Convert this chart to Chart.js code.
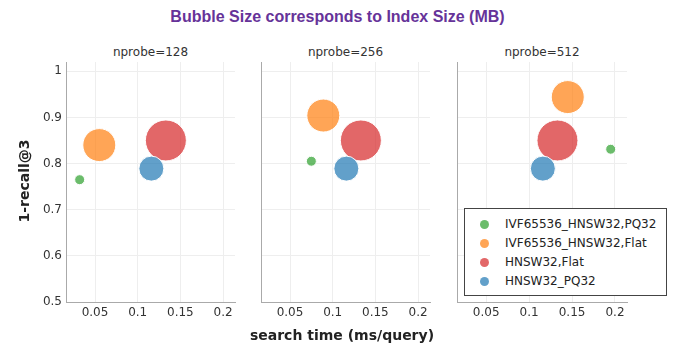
<!DOCTYPE html>
<html>
<head>
<meta charset="utf-8">
<script src="https://cdn.jsdelivr.net/npm/chart.js@4"></script>
<style>
  html, body { margin: 0; padding: 0; background: #fff; }
  #root { position: relative; width: 675px; height: 357px; overflow: hidden; font-family: "DejaVu Sans", sans-serif; }
  .abs { position: absolute; }
  .title { left: 0; width: 675px; top: 7px; text-align: center; font-family: "Liberation Sans", Arial, sans-serif; font-weight: bold; font-size: 16px; color: #663399; line-height: 20px; }
  .sub { font-size: 12px; color: #333; text-align: center; line-height: 14px; top: 45px; }
  .axt { font-weight: bold; font-size: 14px; color: #222; line-height: 16px; white-space: nowrap; }
  #legend { left: 464px; top: 208px; width: 201px; height: 86px; border: 1px solid #444; background: #fff; z-index: 5; }
  .li { position: absolute; left: 0; height: 19px; line-height: 19px; font-size: 12px; color: #222; white-space: nowrap; }
  .dot { position: absolute; left: 15px; top: 5px; width: 9px; height: 9px; border-radius: 50%; }
  .lt { position: absolute; left: 40px; top: 0; }
</style>
</head>
<body>
<div id="root">
  <div class="abs title">Bubble Size corresponds to Index Size (MB)</div>
  <div class="abs sub" style="left:66px;width:169px;">nprobe=128</div>
  <div class="abs sub" style="left:261px;width:169px;">nprobe=256</div>
  <div class="abs sub" style="left:457px;width:170px;">nprobe=512</div>
  <div class="abs" id="c0wrap" style="left:0px;top:50px;"><canvas id="c0" width="240" height="290"></canvas></div>
  <div class="abs" id="c1wrap" style="left:251px;top:50px;"><canvas id="c1" width="184" height="290"></canvas></div>
  <div class="abs" id="c2wrap" style="left:447px;top:50px;"><canvas id="c2" width="185" height="290"></canvas></div>
  <div class="abs axt" style="left:0;width:684px;top:327px;text-align:center;">search time (ms/query)</div>
  <div class="abs axt" style="left:-26px;top:173px;width:100px;text-align:center;transform:rotate(-90deg);">1-recall@3</div>
  <div class="abs" id="legend"></div>
</div>
<script>
// ---- data ----
const panels = ["nprobe=128", "nprobe=256", "nprobe=512"];
const seriesNames = ["IVF65536_HNSW32,PQ32", "IVF65536_HNSW32,Flat", "HNSW32,Flat", "HNSW32_PQ32"];
const seriesColors = ["rgba(44,160,44,0.7)", "rgba(255,127,14,0.7)", "rgba(214,39,40,0.7)", "rgba(31,119,180,0.7)"];
// search time (ms/query) per series, one value per panel (nprobe=128, 256, 512)
const searchTime_IVF_PQ32   = [0.032, 0.075, 0.195];
const searchTime_IVF_Flat   = [0.055, 0.089, 0.145];
const searchTime_HNSW_Flat  = [0.133, 0.133, 0.133];
const searchTime_HNSW_PQ32  = [0.116, 0.116, 0.116];
// 1-recall@3 per series, one value per panel
const recall_IVF_PQ32  = [0.765, 0.805, 0.831];
const recall_IVF_Flat  = [0.840, 0.904, 0.944];
const recall_HNSW_Flat = [0.850, 0.850, 0.850];
const recall_HNSW_PQ32 = [0.789, 0.789, 0.789];
// bubble size (marker diameter, relative to index size)
const bubbleSize = [10, 33, 41, 25];
const xTicks = [0.05, 0.1, 0.15, 0.2];
const yTicks = [0.5, 0.6, 0.7, 0.8, 0.9, 1];

const searchTimes = [searchTime_IVF_PQ32, searchTime_IVF_Flat, searchTime_HNSW_Flat, searchTime_HNSW_PQ32];
const recalls = [recall_IVF_PQ32, recall_IVF_Flat, recall_HNSW_Flat, recall_HNSW_PQ32];

const tickFont = { family: "DejaVu Sans", size: 12 };
const gridColor = "#eeeeee";
const axisColor = "#aaaaaa";

function makeChart(canvasId, p) {
  const yWidth = p === 0 ? 66 : 10;
  const datasets = seriesNames.map((name, i) => ({
    label: name,
    data: [{ x: searchTimes[i][p], y: recalls[i][p], r: bubbleSize[i] / 2 }],
    backgroundColor: seriesColors[i],
    borderColor: "#ffffff",
    borderWidth: 1,
    hoverBorderWidth: 1,
    order: seriesNames.length - 1 - i,
    clip: false
  }));
  return new Chart(document.getElementById(canvasId), {
    type: "bubble",
    data: { datasets },
    options: {
      responsive: false,
      animation: false,
      devicePixelRatio: 1,
      layout: { autoPadding: false, padding: { top: 12, right: 5, left: 0, bottom: 0 } },
      plugins: { legend: { display: false }, tooltip: { enabled: false }, title: { display: false } },
      scales: {
        x: {
          type: "linear", min: 0.016, max: 0.214,
          afterBuildTicks: s => { s.ticks = xTicks.map(v => ({ value: v })); },
          afterFit: s => { s.height = 38; },
          ticks: { font: tickFont, color: "#333", padding: 4, maxRotation: 0, autoSkip: false, callback: v => String(v) },
          grid: { color: gridColor, lineWidth: 1, drawTicks: false },
          border: { color: axisColor, width: 1 }
        },
        y: {
          type: "linear", min: 0.5, max: 1.02,
          afterBuildTicks: s => { s.ticks = yTicks.map(v => ({ value: v })); },
          afterFit: s => { s.width = yWidth; },
          ticks: { display: p === 0, font: tickFont, color: "#333", padding: 4, autoSkip: false, callback: v => String(v) },
          grid: { color: gridColor, lineWidth: 1, drawTicks: false },
          border: { color: axisColor, width: 1 }
        }
      }
    }
  });
}

makeChart("c0", 0);
makeChart("c1", 1);
makeChart("c2", 2);

// legend
const legend = document.getElementById("legend");
seriesNames.forEach((name, i) => {
  const row = document.createElement("div");
  row.className = "li";
  row.style.top = (6 + i * 19) + "px";
  row.innerHTML = '<span class="dot" style="background:' + seriesColors[i] + '"></span><span class="lt"></span>';
  row.querySelector(".lt").textContent = name;
  legend.appendChild(row);
});
</script>
</body>
</html>
